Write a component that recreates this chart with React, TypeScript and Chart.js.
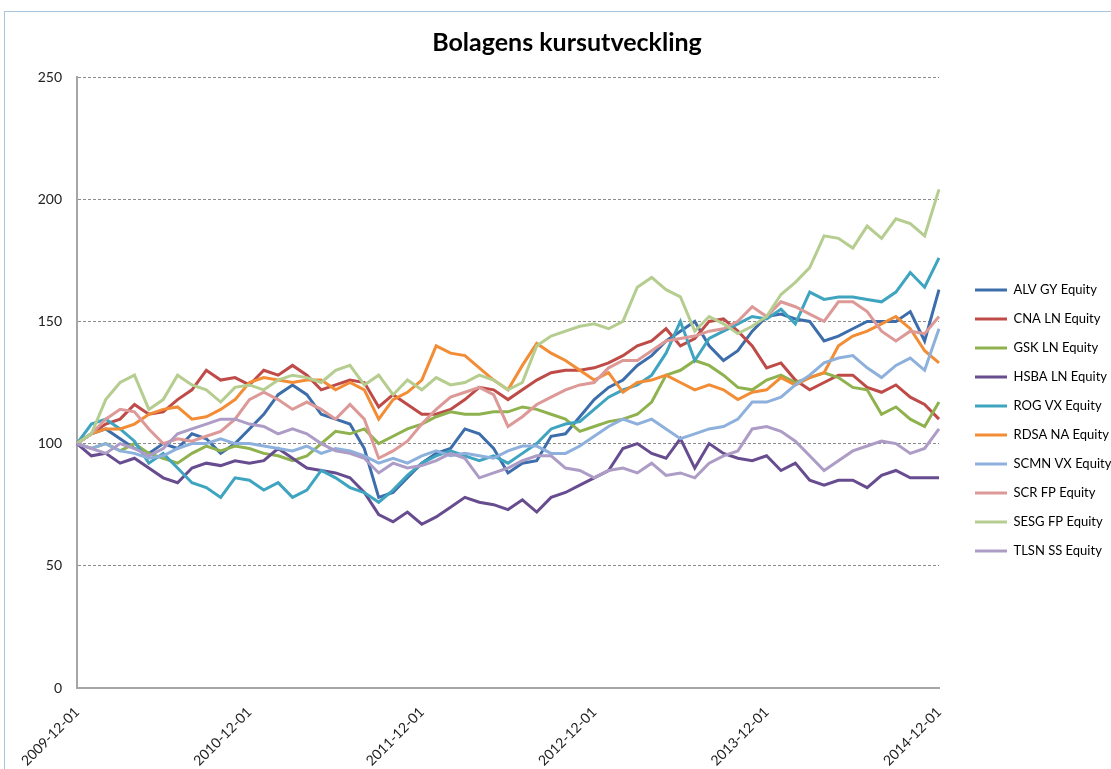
import React, { useEffect, useRef } from 'react';
import { Chart, registerables } from 'chart.js';

Chart.register(...registerables);

const TITLE = 'Bolagens kursutveckling';
const tickDates = ['2009-12-01', '2010-12-01', '2011-12-01', '2012-12-01', '2013-12-01', '2014-12-01'];

// monthly category labels 2009-12-01 .. 2014-12-01
const months: string[] = [];
{
  let y = 2009;
  let m = 12;
  while (months.length < 61) {
    months.push(`${y}-${String(m).padStart(2, '0')}-01`);
    m++;
    if (m > 12) { m = 1; y++; }
  }
}

const seriesNames = [
  'ALV GY Equity', 'CNA LN Equity', 'GSK LN Equity', 'HSBA LN Equity', 'ROG VX Equity',
  'RDSA NA Equity', 'SCMN VX Equity', 'SCR FP Equity', 'SESG FP Equity', 'TLSN SS Equity',
];
const seriesColors = [
  '#3d6eab', '#be4b48', '#8fb24f', '#674c8f', '#3ea4bf',
  '#f28c35', '#8eb0dc', '#dc9997', '#b5cd8f', '#ad9cc6',
];

const alv = [100,104,106,102,98,96,100,98,104,102,96,100,106,112,120,124,120,112,110,108,98,78,80,86,92,96,98,106,104,98,88,92,93,103,104,111,118,123,126,132,136,142,146,150,140,134,138,146,152,153,151,150,142,144,147,150,150,150,154,142,163];
const cna = [100,104,108,110,116,112,113,118,122,130,126,127,124,130,128,132,128,122,124,126,125,115,120,116,112,112,114,118,123,122,118,122,126,129,130,130,131,133,136,140,142,147,140,143,150,151,146,140,131,133,126,122,125,128,128,123,121,124,119,116,110];
const gsk = [100,98,100,97,100,96,94,92,96,99,97,99,98,96,95,93,95,100,105,104,106,100,103,106,108,111,113,112,112,113,113,115,114,112,110,105,107,109,110,112,117,128,130,134,132,128,123,122,126,128,125,127,129,127,123,122,112,115,110,107,117];
const hsba = [100,95,96,92,94,90,86,84,90,92,91,93,92,93,98,94,90,89,88,86,80,71,68,72,67,70,74,78,76,75,73,77,72,78,80,83,86,89,98,100,96,94,102,90,100,96,94,93,95,89,92,85,83,85,85,82,87,89,86,86,86];
const rog = [100,108,110,106,101,92,96,90,84,82,78,86,85,81,84,78,81,89,86,82,80,76,81,87,92,95,97,95,93,95,92,96,100,106,108,109,114,119,122,124,128,137,150,134,143,146,149,152,151,155,149,162,159,160,160,159,158,162,170,164,176];
const rdsa = [100,104,106,106,108,112,114,115,110,111,114,118,125,127,126,125,126,126,122,125,122,110,118,121,126,140,137,136,131,126,122,132,141,137,134,130,126,129,121,125,126,128,125,122,124,122,118,121,122,127,124,127,129,140,144,146,149,152,147,138,133];
const scmn = [100,98,100,97,96,94,95,98,100,100,102,100,100,99,98,97,99,96,98,97,95,92,94,92,95,97,95,96,95,94,97,99,99,96,96,99,103,107,110,108,110,106,102,104,106,107,110,117,117,119,124,128,133,135,136,131,127,132,135,130,147];
const scr = [100,104,110,114,113,106,100,102,101,103,105,110,118,121,118,114,117,114,110,116,110,94,97,101,108,114,119,121,123,120,107,111,116,119,122,124,125,131,134,134,138,142,143,144,146,147,150,156,152,158,156,153,150,158,158,154,146,142,146,145,152];
const sesg = [100,104,118,125,128,114,118,128,124,122,117,123,124,122,126,128,127,125,130,132,124,128,120,126,122,127,124,125,128,126,122,125,140,144,146,148,149,147,150,164,168,163,160,146,152,149,145,148,152,161,166,172,185,184,180,189,184,192,190,185,204];
const tlsn = [100,98,96,100,98,95,98,104,106,108,110,110,108,107,104,106,104,100,97,96,94,88,92,90,91,93,96,94,86,88,90,93,95,95,90,89,86,89,90,88,92,87,88,86,92,95,97,106,107,105,101,95,89,93,97,99,101,100,96,98,106];

const seriesValues = [alv, cna, gsk, hsba, rog, rdsa, scmn, scr, sesg, tlsn];

const FONT = 'Lato, "Open Sans", sans-serif';

export default function App() {
  const canvasRef = useRef<HTMLCanvasElement | null>(null);

  useEffect(() => {
    if (!canvasRef.current) return;
    const n = seriesValues.length;
    const chart = new Chart(canvasRef.current, {
      type: 'line',
      data: {
        labels: months,
        datasets: seriesValues.map((vals, i) => ({
          label: seriesNames[i],
          data: vals,
          borderColor: seriesColors[i],
          backgroundColor: seriesColors[i],
          borderWidth: 3,
          pointRadius: 0,
          tension: 0,
          fill: false,
          order: n - i,
        })),
      },
      options: {
        responsive: false,
        animation: false,
        layout: { padding: { left: 23, right: 0, top: 0, bottom: 0 } },
        plugins: {
          title: {
            display: true,
            text: TITLE,
            color: '#000',
            font: { family: FONT, size: 25, weight: 'bold', lineHeight: 1.2 },
            padding: { top: 28, bottom: 19 },
          },
          legend: {
            position: 'right',
            align: 'center',
            maxWidth: 152,
            title: { display: true, text: ' ', font: { size: 10 }, padding: { top: 60, bottom: 0 } },
            labels: {
              boxWidth: 32,
              boxHeight: 3,
              padding: 16,
              color: '#000',
              font: { family: FONT, size: 13 },
              generateLabels: (c: any) =>
                Chart.defaults.plugins.legend.labels.generateLabels(c).map((l: any) => ({ ...l, lineWidth: 0 })),
              sort: (a: any, b: any) => a.datasetIndex - b.datasetIndex,
            },
          },
          tooltip: { enabled: false },
        },
        scales: {
          x: {
            type: 'category',
            grid: { display: false },
            border: { display: true, color: '#a6a6a6', width: 2 },
            ticks: {
              autoSkip: false,
              maxRotation: 45,
              minRotation: 45,
              padding: 8,
              color: '#222',
              font: { family: FONT, size: 14 },
              callback: (_v: any, i: number) => (i % 12 === 0 ? tickDates[i / 12] : null),
            },
            afterFit: (s: any) => { s.height = 81; },
          },
          y: {
            min: 0,
            max: 250,
            ticks: { stepSize: 50, padding: 15, color: '#222', font: { family: FONT, size: 14 } },
            grid: { color: '#8c8c8c', lineWidth: 1, drawTicks: false },
            border: { display: true, color: '#a6a6a6', width: 2, dash: [3, 2] },
            afterFit: (s: any) => { s.width = 54; },
          },
          yPad: {
            type: 'linear',
            position: 'right',
            display: true,
            grid: { display: false, drawTicks: false },
            ticks: { display: false },
            border: { display: false },
            afterFit: (s: any) => { s.width = 20; },
          },
        },
      } as any,
    });
    return () => chart.destroy();
  }, []);

  return (
    <div style={{ position: 'fixed', left: 0, top: 0, width: 1111, height: 769, background: '#fff', overflow: 'hidden' }}>
      <canvas ref={canvasRef} width={1111} height={769} style={{ display: 'block', width: 1111, height: 769 }} />
      <div style={{ position: 'absolute', left: 4, top: 11, width: 1130, height: 800, border: '1px solid #a9c4dc', pointerEvents: 'none' }} />
    </div>
  );
}
